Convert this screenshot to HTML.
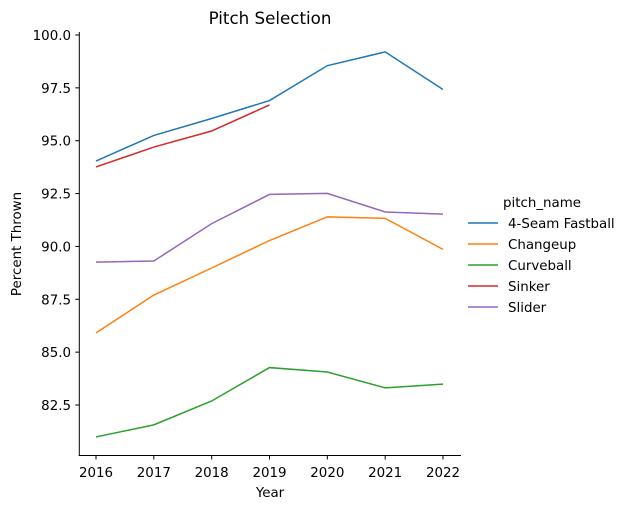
<!DOCTYPE html>
<html><head><meta charset="utf-8">
<style>
body{margin:0;background:#fff;}
svg{display:block;font-family:"DejaVu Sans","Liberation Sans",sans-serif;}
</style></head>
<body>
<svg id="chart" width="630" height="510" viewBox="0 0 630 510">
<text x="270" y="24" text-anchor="middle" font-size="16.7" fill="#000">Pitch Selection</text>
<g id="axes"></g>
<g id="series"></g>
<g id="legend"></g>
</svg>
<script>
const years=[2016,2017,2018,2019,2020,2021,2022];
const seriesNames=["4-Seam Fastball","Changeup","Curveball","Sinker","Slider"];
const colors=["#1f77b4","#ff7f0e","#2ca02c","#d62728","#9467bd"];
const fastball=[94.04,95.25,96.05,96.90,98.55,99.20,97.42];
const changeup=[85.91,87.70,88.98,90.28,91.40,91.33,89.86];
const curveball=[80.99,81.56,82.69,84.27,84.06,83.31,83.49];
const sinker=[93.76,94.70,95.46,96.69];
const slider=[89.26,89.31,91.08,92.46,92.51,91.63,91.53];
const yTicks=[82.5,85.0,87.5,90.0,92.5,95.0,97.5,100.0];
const allSeries=[fastball,changeup,curveball,sinker,slider];

const NS="http://www.w3.org/2000/svg";
function xs(v){return 96+(v-2016)*(443-96)/6;}
function ys(v){return 405-(v-82.5)*(405-35)/17.5;}
function mk(tag,attrs,parent){const e=document.createElementNS(NS,tag);for(const k in attrs)e.setAttribute(k,attrs[k]);parent.appendChild(e);return e;}
const axes=document.getElementById('axes');
let sp=mk('line',{x1:79.3,y1:32,x2:79.3,y2:456,stroke:'#000','stroke-width':1},axes);


sp=mk('line',{x1:78.8,y1:455.5,x2:461,y2:455.5,stroke:'#000','stroke-width':1},axes);


years.forEach(y=>{
  const x=xs(y);
  mk('line',{x1:x,y1:455.5,x2:x,y2:459.5,stroke:'#000'},axes);
  const t=mk('text',{x:x,y:477,'text-anchor':'middle','font-size':13.4},axes);
  t.textContent=y;
  
  
});
yTicks.forEach(v=>{
  const y=ys(v);
  mk('line',{x1:75.3,y1:y,x2:79.3,y2:y,stroke:'#000'},axes);
  const t=mk('text',{x:71,y:y+5,'text-anchor':'end','font-size':13.4},axes);
  t.textContent=v.toFixed(1);
  
  
});
let t=mk('text',{x:270,y:497,'text-anchor':'middle','font-size':13.4},axes);
t.textContent='Year';


t=mk('text',{x:21,y:244,'text-anchor':'middle','font-size':13.4,transform:'rotate(-90 21 244)'},axes);
t.textContent='Percent Thrown';



const sg=document.getElementById('series');
allSeries.forEach((arr,i)=>{
  const pts=arr.map((v,j)=>xs(years[j])+','+ys(v)).join(' ');
  const p=mk('polyline',{points:pts,fill:'none',stroke:colors[i],'stroke-width':1.5},sg);
  
  
});

const lg=document.getElementById('legend');
t=mk('text',{x:503,y:207,'font-size':13.4},lg);
t.textContent='pitch_name';


seriesNames.forEach((n,i)=>{
  const cy=223+i*21;
  const l=mk('line',{x1:468,y1:cy,x2:498,y2:cy,stroke:colors[i],'stroke-width':1.5},lg);
  
  
  const tx=mk('text',{x:508,y:cy+5,'font-size':13.4},lg);
  tx.textContent=n;
  
  
});
</script>
</body></html>
